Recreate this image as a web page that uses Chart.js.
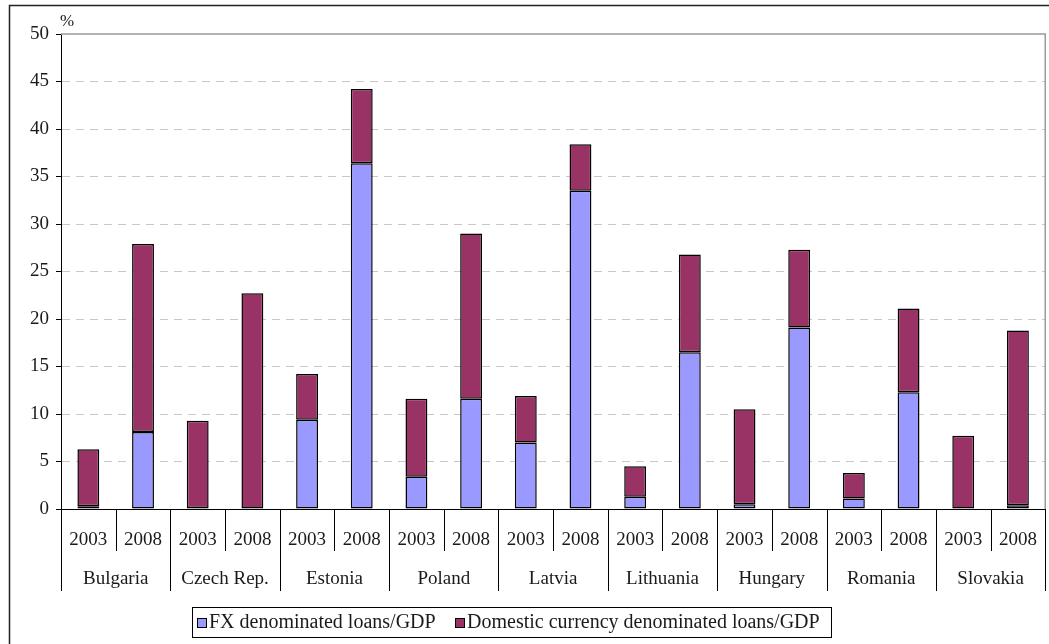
<!DOCTYPE html>
<html>
<head>
<meta charset="utf-8">
<script src="https://cdn.jsdelivr.net/npm/chart.js@4.4.0/dist/chart.umd.min.js"></script>
<style>
  html, body { margin: 0; padding: 0; background: #ffffff; }
  #wrap { width: 1049px; height: 644px; position: relative; }
</style>
</head>
<body>
<div id="wrap"><canvas id="c" width="1049" height="644"></canvas></div>
<script>
// Loans to GDP by country, 2003 vs 2008 (%)
const countries = ['Bulgaria', 'Czech Rep.', 'Estonia', 'Poland', 'Latvia',
                   'Lithuania', 'Hungary', 'Romania', 'Slovakia'];
const years = ['2003', '2008'];
const yearLabels = countries.flatMap(() => years);

// FX denominated loans/GDP
const fxLoans = [0.3, 8.1, 0.1, 0, 9.4, 36.4, 3.4, 11.6, 7.0, 33.5,
                 1.3, 16.5, 0.5, 19.1, 1.1, 12.3, 0, 0.4];
// Domestic currency denominated loans/GDP
const domesticLoans = [6.0, 19.8, 9.2, 22.7, 4.8, 7.8, 8.2, 17.4, 4.9, 4.9,
                       3.2, 10.3, 10.0, 8.2, 2.7, 8.8, 7.7, 18.4];

const seriesNames = ['FX denominated loans/GDP', 'Domestic currency denominated loans/GDP'];
const seriesColors = ['#9999ff', '#993366'];

const FONT = '"Liberation Serif", "Times New Roman", serif';
const TEXT = '#1a1a1a';

const decorations = {
  id: 'decorations',
  beforeDatasetsDraw(chart) {
    const { ctx, chartArea: a } = chart;
    ctx.save();
    // solid frame line at the top and right of the plot
    ctx.strokeStyle = '#9a9a9a';
    ctx.lineWidth = 1.5;
    ctx.beginPath();
    ctx.moveTo(a.left, a.top);
    ctx.lineTo(a.right, a.top);
    ctx.lineTo(a.right, a.bottom);
    ctx.stroke();
    ctx.restore();
  },
  afterDraw(chart) {
    const { ctx, chartArea: a } = chart;
    const xs = chart.scales.x;
    const step = xs.getPixelForValue(1) - xs.getPixelForValue(0);
    ctx.save();

    // outer frame
    ctx.strokeStyle = '#222';
    ctx.lineWidth = 1.5;
    ctx.beginPath();
    ctx.moveTo(9.5, 644);
    ctx.lineTo(9.5, 5.5);
    ctx.lineTo(1049, 5.5);
    ctx.stroke();

    // category separators below the axis
    ctx.strokeStyle = '#000';
    ctx.lineWidth = 1;
    for (let i = 0; i <= yearLabels.length; i++) {
      const x = Math.round(xs.getPixelForValue(i) - step / 2) + 0.5;
      const yEnd = (i % 2 === 0) ? a.bottom + 82 : a.bottom + 42;
      ctx.beginPath();
      ctx.moveTo(x, a.bottom);
      ctx.lineTo(x, yEnd);
      ctx.stroke();
    }

    // country group labels
    ctx.fillStyle = TEXT;
    ctx.font = '19px ' + FONT;
    ctx.textAlign = 'center';
    ctx.textBaseline = 'middle';
    countries.forEach((name, k) => {
      const x = (xs.getPixelForValue(2 * k) + xs.getPixelForValue(2 * k + 1)) / 2;
      ctx.fillText(name, x, a.bottom + 70);
    });

    // unit label
    ctx.font = '17px ' + FONT;
    ctx.fillText('%', a.left + 6, a.top - 12);

    // legend
    ctx.font = '20px ' + FONT;
    ctx.textAlign = 'left';
    const boxL = 192, boxT = 607, boxW = 639, boxH = 30;
    const itemX = [197, 455];
    const yMid = boxT + boxH / 2 + 1;
    seriesNames.forEach((name, i) => {
      const x = itemX[i];
      ctx.fillStyle = seriesColors[i];
      ctx.fillRect(x, yMid - 5, 10, 10);
      ctx.strokeStyle = '#000';
      ctx.lineWidth = 1;
      ctx.strokeRect(x + 0.5, yMid - 4.5, 9, 9);
      ctx.fillStyle = TEXT;
      ctx.fillText(name, x + 12, yMid);
    });
    ctx.strokeStyle = '#000';
    ctx.lineWidth = 1;
    ctx.strokeRect(boxL + 0.5, boxT + 0.5, boxW, boxH);

    ctx.restore();
  }
};

new Chart(document.getElementById('c'), {
  type: 'bar',
  data: {
    labels: yearLabels,
    datasets: [
      { label: seriesNames[0], data: fxLoans, backgroundColor: seriesColors[0],
        borderColor: '#000', borderWidth: 1.5, borderSkipped: false },
      { label: seriesNames[1], data: domesticLoans, backgroundColor: seriesColors[1],
        borderColor: '#000', borderWidth: 1.5, borderSkipped: false }
    ]
  },
  options: {
    responsive: false,
    animation: false,
    devicePixelRatio: 1,
    layout: { padding: { left: 0, right: 3, top: 34, bottom: 0 } },
    datasets: { bar: { categoryPercentage: 1, barPercentage: 0.4 } },
    plugins: { legend: { display: false }, tooltip: { enabled: false } },
    scales: {
      x: {
        stacked: true,
        grid: { display: false },
        border: { color: '#000', width: 1 },
        ticks: { font: { family: FONT, size: 19 }, color: TEXT, padding: 12, maxRotation: 0, autoSkip: false },
        afterFit(s) { s.height = 135; }
      },
      y: {
        stacked: true,
        min: 0,
        max: 50,
        grid: {
          color: (c) => (c.tick && (c.tick.value === 0 || c.tick.value === 50)) ? 'rgba(0,0,0,0)' : '#c8c8c8',
          tickColor: '#000',
          tickLength: 5,
          tickBorderDash: [],
          lineWidth: 1
        },
        border: { color: '#000', width: 1, dash: [8, 6] },
        ticks: { stepSize: 5, font: { family: FONT, size: 19 }, color: TEXT, padding: 7 },
        afterFit(s) { s.width = 61; }
      }
    }
  },
  plugins: [decorations]
});
</script>
</body>
</html>
